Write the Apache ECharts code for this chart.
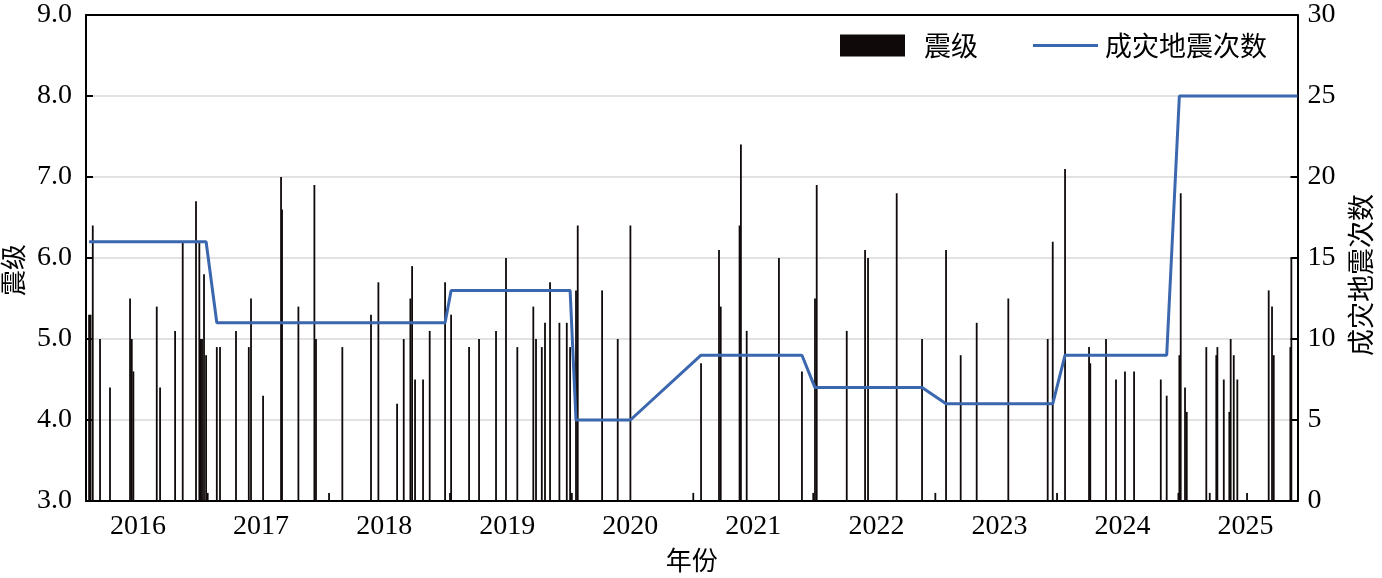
<!DOCTYPE html>
<html>
<head>
<meta charset="utf-8">
<title>震级与成灾地震次数</title>
<script src="https://cdn.jsdelivr.net/npm/echarts@6/dist/echarts.min.js"></script>
<style>
  html, body { margin: 0; padding: 0; background: #fff; }
  #main { width: 1382px; height: 578px; }
</style>
</head>
<body>
<div id="main"></div>
<script>
// year labels sit in the middle of each year
const yearLabels = ['2016', '2017', '2018', '2019', '2020', '2021', '2022', '2023', '2024', '2025'];

// event time (decimal year) and magnitude of each earthquake
const eventDates = [
  2016.102, 2016.114, 2016.132, 2016.191, 2016.272, 2016.435, 2016.449, 2016.462, 2016.652, 2016.679,
  2016.801, 2016.863, 2016.971, 2016.998, 2017.010, 2017.020, 2017.036, 2017.053, 2017.066, 2017.140,
  2017.166, 2017.296, 2017.400, 2017.418, 2017.516, 2017.662, 2017.670, 2017.803, 2017.933, 2017.946,
  2018.052, 2018.160, 2018.393, 2018.453, 2018.605, 2018.659, 2018.713, 2018.727, 2018.751, 2018.816,
  2018.870, 2018.995, 2019.035, 2019.044, 2019.190, 2019.271, 2019.409, 2019.490, 2019.582, 2019.712,
  2019.734, 2019.781, 2019.807, 2019.848, 2019.924, 2019.984, 2020.011, 2020.025, 2020.059, 2020.073,
  2020.271, 2020.398, 2020.501, 2021.012, 2021.075, 2021.221, 2021.235, 2021.388, 2021.399, 2021.446,
  2021.708, 2021.895, 2021.987, 2022.001, 2022.015, 2022.259, 2022.408, 2022.432, 2022.665, 2022.871,
  2022.979, 2023.066, 2023.185, 2023.315, 2023.572, 2023.892, 2023.933, 2023.968, 2024.033, 2024.228,
  2024.238, 2024.366, 2024.447, 2024.520, 2024.594, 2024.811, 2024.859, 2024.954, 2024.962, 2024.973,
  2025.008, 2025.022, 2025.181, 2025.209, 2025.262, 2025.271, 2025.323, 2025.368, 2025.379, 2025.404,
  2025.433, 2025.512, 2025.688, 2025.715, 2025.729, 2025.864, 2025.872
];
const magnitudes = [
  5.3, 5.3, 6.4, 5.0, 4.4, 5.5, 5.0, 4.6, 5.4, 4.4,
  5.1, 6.2, 6.7, 6.2, 5.0, 5.0, 5.8, 4.8, 3.1, 4.9,
  4.9, 5.1, 4.9, 5.5, 4.3, 7.0, 6.6, 5.4, 6.9, 5.0,
  3.1, 4.9, 5.3, 5.7, 4.2, 5.0, 5.5, 5.9, 4.5, 4.5,
  5.1, 5.7, 3.1, 5.3, 4.9, 5.0, 5.1, 6.0, 4.9, 5.4,
  5.0, 4.9, 5.2, 5.7, 5.2, 5.2, 4.9, 3.1, 5.6, 6.4,
  5.6, 5.0, 6.4, 3.1, 4.7, 6.1, 5.4, 6.4, 7.4, 5.1,
  6.0, 4.6, 3.1, 5.5, 6.9, 5.1, 6.1, 6.0, 6.8, 5.0,
  3.1, 6.1, 4.8, 5.2, 5.5, 5.0, 6.2, 3.1, 7.1, 4.9,
  4.7, 5.0, 4.5, 4.6, 4.6, 4.5, 4.3, 3.1, 4.8, 6.8,
  4.4, 4.1, 4.9, 3.1, 4.8, 4.9, 4.5, 4.1, 5.0, 4.8,
  4.5, 3.1, 5.6, 5.4, 4.8, 4.9, 6.0
];

// number of disaster-causing earthquakes, drawn through the events of each year
const countDates = [
  2016.102, 2017.053, 2017.140, 2018.995, 2019.044, 2020.011, 2020.059, 2020.501, 2021.075,
  2021.895, 2022.001, 2022.871, 2023.066, 2023.933, 2024.033, 2024.859, 2024.962, 2025.922
];
const countValues = [16, 16, 11, 11, 13, 13, 5, 5, 9, 9, 7, 7, 6, 6, 9, 9, 25, 25];

const X_MIN = 2016.077;
const X_MAX = 2025.922;

const SERIF = '"Liberation Serif", "Times New Roman", serif';
const CJK = '"Noto Sans CJK SC", sans-serif';
const BAR_COLOR = '#0f0909';
const LINE_COLOR = '#3b67ae';

const chart = echarts.init(document.getElementById('main'));

const option = {
  backgroundColor: '#ffffff',
  animation: false,
  grid: {
    left: 86,
    right: 84.5,
    top: 15,
    bottom: 77,
    outerBoundsMode: 'none',
    containLabel: false,
  },
  legend: [
    {
      left: 840,
      top: 32,
      padding: 0,
      data: [{ name: '震级', icon: 'rect', itemStyle: { color: BAR_COLOR, borderWidth: 0 } }],
      itemWidth: 65,
      itemHeight: 22,
      textStyle: { fontFamily: CJK, fontSize: 27, color: '#000', padding: [0, 0, 0, 14] },
    },
    {
      left: 1033,
      top: 32,
      padding: 0,
      data: [{ name: '成灾地震次数', icon: 'path://M0,0h65v3h-65z' }],
      itemWidth: 65,
      itemHeight: 22,
      textStyle: { fontFamily: CJK, fontSize: 27, color: '#000', padding: [0, 0, 0, 2] },
    },
  ],
  xAxis: [
    {
      type: 'value',
      min: X_MIN,
      max: X_MAX,
      name: '年份',
      nameLocation: 'middle',
      nameGap: 46,
      nameTextStyle: { fontFamily: CJK, fontSize: 26, color: '#000' },
      axisLine: { show: true, lineStyle: { color: '#000', width: 2 } },
      axisTick: { show: false },
      splitLine: { show: false },
      axisLabel: {
        customValues: yearLabels.map((y) => Number(y) + 0.5),
        formatter: (v) => String(Math.floor(v)),
        fontFamily: SERIF,
        fontSize: 28,
        color: '#000',
        margin: 12,
      },
    },
    {
      // top frame line
      type: 'value',
      position: 'top',
      min: X_MIN,
      max: X_MAX,
      axisLine: { show: true, lineStyle: { color: '#000', width: 2 } },
      axisTick: { show: false },
      axisLabel: { show: false },
      splitLine: { show: false },
    },
  ],
  yAxis: [
    {
      type: 'value',
      min: 3,
      max: 9,
      interval: 1,
      name: '震级',
      nameLocation: 'middle',
      nameRotate: 90,
      nameGap: 53,
      nameTextStyle: { fontFamily: CJK, fontSize: 26, color: '#000', padding: [0, 24, 0, 0] },
      axisLine: { show: true, lineStyle: { color: '#000', width: 2 } },
      axisTick: { show: true, inside: true, length: 7, lineStyle: { color: '#000', width: 2 } },
      splitLine: { show: true, lineStyle: { color: '#d9d9d9', width: 1.5 } },
      axisLabel: {
        formatter: (v) => v.toFixed(1),
        fontFamily: SERIF,
        fontSize: 28,
        color: '#000',
        margin: 14,
      },
    },
    {
      type: 'value',
      min: 0,
      max: 30,
      interval: 5,
      name: '成灾地震次数',
      nameLocation: 'middle',
      nameRotate: 90,
      nameGap: 50,
      nameTextStyle: { fontFamily: CJK, fontSize: 27, color: '#000', padding: [0, 34, 0, 0] },
      axisLine: { show: true, lineStyle: { color: '#000', width: 2 } },
      axisTick: { show: true, inside: true, length: 7, lineStyle: { color: '#000', width: 2 } },
      splitLine: { show: false },
      axisLabel: {
        fontFamily: SERIF,
        fontSize: 28,
        color: '#000',
        margin: 10,
      },
    },
  ],
  series: [
    {
      name: '震级',
      type: 'bar',
      yAxisIndex: 0,
      barWidth: 1.8,
      itemStyle: { color: BAR_COLOR },
      data: eventDates.map((d, i) => [d, magnitudes[i]]),
    },
    {
      name: '成灾地震次数',
      type: 'line',
      yAxisIndex: 1,
      symbol: 'none',
      z: 5,
      itemStyle: { color: LINE_COLOR },
      lineStyle: { color: LINE_COLOR, width: 3 },
      data: countDates.map((d, i) => [d, countValues[i]]),
    },
  ],
};

chart.setOption(option);
</script>
</body>
</html>
